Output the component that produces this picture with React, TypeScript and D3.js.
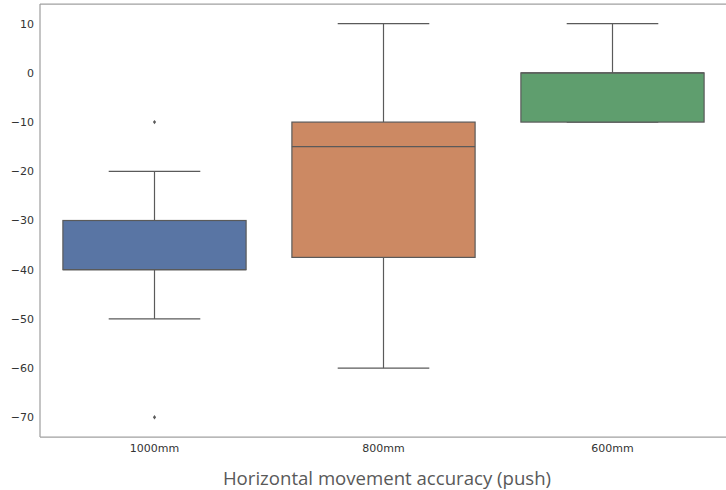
import React from "react";
import * as d3 from "d3";

const categories = ["1000mm", "800mm", "600mm"];
const q1 = [-40, -37.5, -10];
const q3 = [-30, -10, 0];
const medians = [-40, -15, 0];
const whiskerLow = [-50, -60, -10];
const whiskerHigh = [-20, 10, 10];
const outliers = [[-10, -70], [], []];
const colors = ["#5975a4", "#cc8963", "#5f9e6e"];
const yTicks = [10, 0, -10, -20, -30, -40, -50, -60, -70];
const title = "Horizontal movement accuracy (push)";

const W = 726, H = 490;
const left = 40, right = 727, top = 4, bottom = 437;
const line = "#5a5a5a";

export default function App() {
  const x = d3.scaleBand<string>().domain(categories).range([left, right]).paddingInner(0).paddingOuter(0);
  const y = d3.scaleLinear().domain([-74, 14]).range([bottom, top]);
  const bw = x.bandwidth() * 0.8;
  return (
    <svg width={W} height={H} style={{ position: "absolute", left: 0, top: 0, background: "#fff" }}>
      {categories.map((c, i) => {
        const cx = x(c)! + x.bandwidth() / 2;
        return (
          <g key={c}>
            <line x1={cx} x2={cx} y1={y(q1[i])} y2={y(whiskerLow[i])} stroke={line} strokeWidth={1.2} />
            <line x1={cx} x2={cx} y1={y(q3[i])} y2={y(whiskerHigh[i])} stroke={line} strokeWidth={1.2} />
            <line x1={cx - bw / 4} x2={cx + bw / 4} y1={y(whiskerLow[i])} y2={y(whiskerLow[i])} stroke={line} strokeWidth={1.2} />
            <line x1={cx - bw / 4} x2={cx + bw / 4} y1={y(whiskerHigh[i])} y2={y(whiskerHigh[i])} stroke={line} strokeWidth={1.2} />
            <rect x={cx - bw / 2} y={y(q3[i])} width={bw} height={y(q1[i]) - y(q3[i])} fill={colors[i]} stroke={line} strokeWidth={1.2} />
            <line x1={cx - bw / 2} x2={cx + bw / 2} y1={y(medians[i])} y2={y(medians[i])} stroke={line} strokeWidth={1.2} />
            {outliers[i].map((v, j) => (
              <path key={j} d={`M${cx},${y(v) - 2.2}L${cx + 1.6},${y(v)}L${cx},${y(v) + 2.2}L${cx - 1.6},${y(v)}Z`} fill={line} />
            ))}
            <text x={cx} y={bottom + 15} textAnchor="middle" fontFamily="DejaVu Sans" fontSize={11} fill="#333333">{c}</text>
          </g>
        );
      })}
      {yTicks.map((t) => (
        <text key={t} x={left - 6} y={y(t)} dy="0.35em" textAnchor="end" fontFamily="DejaVu Sans" fontSize={11} fill="#333333">
          {t < 0 ? "\u2212" + Math.abs(t) : String(t)}
        </text>
      ))}
      <line x1={left} x2={left} y1={top} y2={bottom} stroke="#a0a0a0" strokeWidth={1.25} />
      <line x1={left} x2={right} y1={bottom} y2={bottom} stroke="#a0a0a0" strokeWidth={1.25} />
      <line x1={left} x2={right} y1={top} y2={top} stroke="#a0a0a0" strokeWidth={1.25} />
      <text x={387} y={485} textAnchor="middle" fontFamily="Open Sans" fontSize={18.6} fill="#595959">{title}</text>
    </svg>
  );
}
